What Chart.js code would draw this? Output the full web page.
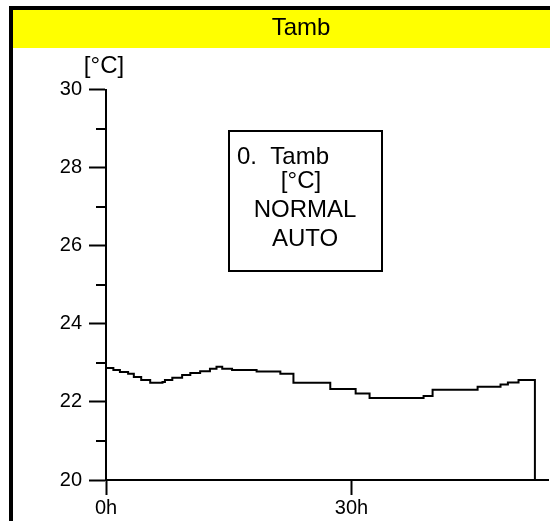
<!DOCTYPE html>
<html>
<head>
<meta charset="utf-8">
<script src="https://cdn.jsdelivr.net/npm/chart.js@4/dist/chart.umd.min.js"></script>
<style>
  html, body { margin: 0; padding: 0; background: #ffffff; }
  #wrap { width: 550px; height: 521px; position: relative; }
</style>
</head>
<body>
<div id="wrap"><canvas id="c" width="550" height="521"></canvas></div>
<script>
// ---- data (hours, °C) ----
const hours = [0, 0.9, 1.7, 2.7, 3.4, 4.3, 5.4, 6.9, 7.2, 8.1, 9.3, 10.3, 11.5, 12.7, 13.5, 14.2, 15.4, 18.4, 21.3, 22.9, 27.4, 30.5, 32.2, 38.8, 39.9, 45.4, 48.2, 49.1, 50.4, 52.4];
const tamb  = [22.87, 22.82, 22.77, 22.72, 22.64, 22.56, 22.49, 22.51, 22.56, 22.62, 22.69, 22.74, 22.79, 22.85, 22.9, 22.85, 22.82, 22.78, 22.72, 22.49, 22.33, 22.22, 22.10, 22.15, 22.31, 22.39, 22.45, 22.50, 22.56, 20];
const xTickValues = [0, 30];
const yMajorTicks = [20, 22, 24, 26, 28, 30];
const yMinorTicks = [21, 23, 25, 27, 29];
const chartTitle = 'Tamb';
const yUnit = '[°C]';
const boxLines = ['0.  Tamb', '[°C]', 'NORMAL', 'AUTO'];

const FONT = "Arial, 'Liberation Sans', sans-serif";

const framePlugin = {
  id: 'frame',
  beforeDraw(chart) {
    const ctx = chart.ctx;
    ctx.save();
    ctx.fillStyle = '#ffffff';
    ctx.fillRect(0, 0, 550, 521);
    ctx.fillStyle = '#ffff00';
    ctx.fillRect(13, 10, 537, 38);
    ctx.fillStyle = '#000000';
    ctx.fillRect(9, 6, 541, 4);
    ctx.fillRect(9, 6, 4, 515);
    ctx.restore();
  },
  afterDraw(chart) {
    const ctx = chart.ctx;
    const y = chart.scales.y;
    const area = chart.chartArea;
    ctx.save();
    // minor ticks
    ctx.strokeStyle = '#000';
    ctx.lineWidth = 2;
    yMinorTicks.forEach(v => {
      const py = Math.round(y.getPixelForValue(v));
      ctx.beginPath();
      ctx.moveTo(area.left - 10, py);
      ctx.lineTo(area.left, py);
      ctx.stroke();
    });
    // unit label
    ctx.fillStyle = '#000';
    ctx.font = '24px ' + FONT;
    ctx.textAlign = 'center';
    ctx.textBaseline = 'middle';
    ctx.fillText(yUnit, 104, 66);
    // legend box
    ctx.lineWidth = 2;
    ctx.strokeRect(229, 131, 153, 140);
    ctx.font = '24px ' + FONT;
    ctx.textAlign = 'left';
    ctx.fillText(boxLines[0], 237, 157);
    ctx.textAlign = 'center';
    ctx.fillText(boxLines[1], 301, 181);
    ctx.fillText(boxLines[2], 305, 210);
    ctx.fillText(boxLines[3], 305, 239);
    ctx.restore();
  }
};

new Chart(document.getElementById('c'), {
  type: 'line',
  data: {
    datasets: [{
      data: hours.map((h, i) => ({ x: h, y: tamb[i] })),
      borderColor: '#000000',
      borderWidth: 2,
      pointRadius: 0,
      stepped: true,
      fill: false
    }]
  },
  options: {
    responsive: false,
    animation: false,
    devicePixelRatio: 1,
    layout: { padding: { left: 54, right: 2, top: 10, bottom: 0 } },
    plugins: {
      legend: { display: false },
      tooltip: { enabled: false },
      title: {
        display: true,
        text: chartTitle,
        color: '#000',
        font: { family: FONT, size: 24, weight: 'normal', lineHeight: 1.2 },
        padding: { top: 4, bottom: 47 }
      }
    },
    scales: {
      x: {
        type: 'linear',
        min: 0,
        max: 54,
        afterBuildTicks: s => { s.ticks = xTickValues.map(v => ({ value: v })); },
        afterFit: s => { s.height = 41; },
        ticks: {
          autoSkip: false,
          maxRotation: 0,
          color: '#000',
          padding: 1,
          font: { family: FONT, size: 20 },
          callback: v => v + 'h'
        },
        grid: { drawOnChartArea: false, drawTicks: true, tickLength: 15, tickWidth: 2, tickColor: '#000' },
        border: { display: true, color: '#000', width: 2 }
      },
      y: {
        type: 'linear',
        min: 20,
        max: 30,
        afterBuildTicks: s => { s.ticks = yMajorTicks.map(v => ({ value: v })); },
        afterFit: s => { s.width = 52; },
        ticks: {
          autoSkip: false,
          color: '#000',
          padding: 7,
          font: { family: FONT, size: 20 },
          callback: v => String(v)
        },
        grid: { drawOnChartArea: false, drawTicks: true, tickLength: 17, tickWidth: 2, tickColor: '#000' },
        border: { display: true, color: '#000', width: 2 }
      }
    }
  },
  plugins: [framePlugin]
});
</script>
</body>
</html>
